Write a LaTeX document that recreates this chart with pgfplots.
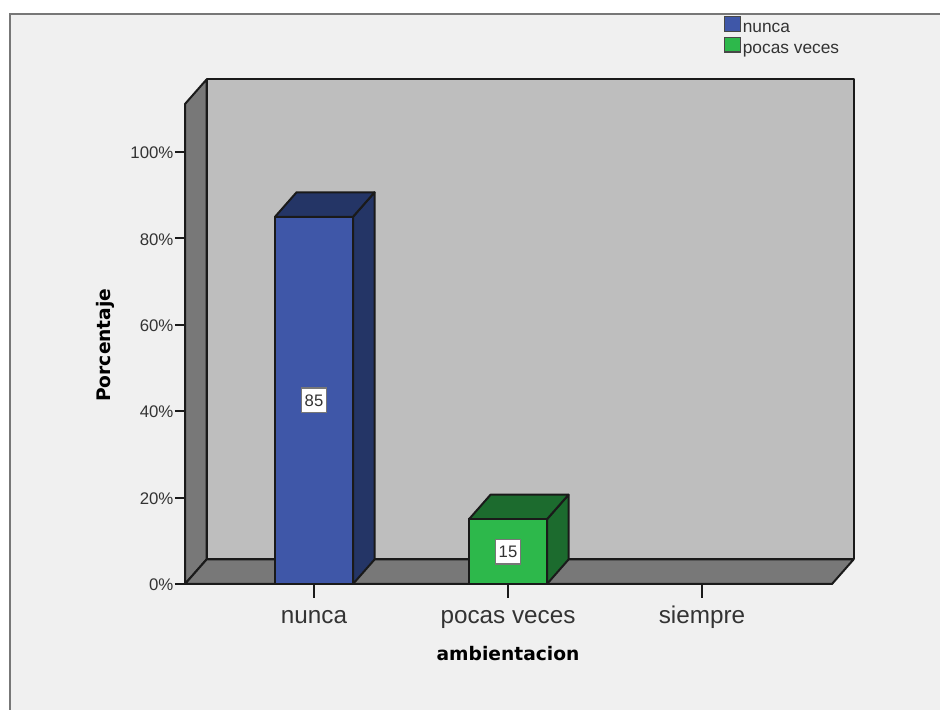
\documentclass[border=0pt]{standalone}
\usepackage{fontspec}
\setmainfont{Liberation Sans}
\newfontfamily\labelfont{DejaVu Sans}
\usepackage{pgfplots}
\pgfplotsset{compat=1.18}

\definecolor{panel}{HTML}{F0F0F0}
\definecolor{frameline}{HTML}{777777}
\definecolor{wallback}{HTML}{BEBEBE}
\definecolor{wallside}{HTML}{787878}
\definecolor{edge}{HTML}{1A1A1A}
\definecolor{txt}{HTML}{333333}
\definecolor{blueface}{HTML}{3F57A8}
\definecolor{blueside}{HTML}{243566}
\definecolor{greenface}{HTML}{2DB84B}
\definecolor{greenside}{HTML}{1C6B2E}

\pgfplotsset{
    face/.style={draw=edge, line width=1.5pt, line join=round, forget plot},
    swatch/.style={
        legend image code/.code={
            \draw[##1, draw=edge!80, line width=0.9pt] (0pt,-2.25pt) rectangle (12pt,8.75pt);
        },
    },
}

\begin{document}
\begin{tikzpicture}[x=0.75pt, y=0.75pt]
\path[use as bounding box] (0,0) rectangle (940,710);
\fill[panel] (9,0) rectangle (940,696);
\draw[frameline, line width=1.5pt] (9.5,0) -- (9.5,696) -- (940,696);

\begin{axis}[
    at={(138.75pt,94.5pt)},
    anchor=south west,
    scale only axis,
    width=485.25pt,
    height=360pt,
    clip=false,
    xmin=-0.665, xmax=2.67,
    ymin=0, ymax=111.11,
    xtick={0,1,2},
    xticklabels={nunca, pocas veces, siempre},
    ytick={0,20,40,60,80,100},
    yticklabel={\pgfmathprintnumber{\tick}\%},
    /pgf/number format/assume math mode=true,
    axis x line*=bottom,
    axis y line*=left,
    axis line style={-, edge, line width=1.5pt},
    tick align=outside,
    major tick length=7.5pt,
    xtick style={edge, line width=1.5pt, /pgfplots/major tick length=10.5pt},
    ytick style={edge, line width=1.5pt},
    yticklabel style={font=\fontsize{12.6}{13}\selectfont, text=txt, inner sep=1pt, yshift=-0.7pt},
    xticklabel style={font=\fontsize{18.2}{20}\selectfont, text=txt,
        text height=13pt, text depth=4pt, yshift=-5.5pt},
    every axis x label/.style={at={(axis cs:1,-16)}, anchor=center},
    every axis y label/.style={at={(axis cs:-1.077,55.3)}, rotate=90, anchor=center},
    xlabel={\labelfont\bfseries\fontsize{14}{16}\selectfont ambientacion},
    ylabel={\labelfont\bfseries\fontsize{14}{16}\selectfont Porcentaje},
    legend cell align=left,
    legend style={
        at={(axis cs:2.11,131.5)}, anchor=north west,
        draw=none, fill=none,
        font=\fontsize{13}{13}\selectfont, text=txt,
        row sep=0pt, inner sep=0pt,
        /tikz/every even column/.append style={column sep=1pt},
        nodes={inner xsep=1.5pt, inner ysep=0pt, text height=9.5pt, text depth=2.8pt},
    },
]
% walls and floor
\addplot[face, fill=wallback] coordinates {(-0.554,5.67)(2.781,5.67)(2.781,116.78)(-0.554,116.78)} -- cycle;
\addplot[face, fill=wallside] coordinates {(-0.665,0)(-0.554,5.67)(-0.554,116.78)(-0.665,111.11)} -- cycle;
\addplot[face, fill=wallside] coordinates {(-0.665,0)(2.67,0)(2.781,5.67)(-0.554,5.67)} -- cycle;

% nunca
\addplot[face, fill=blueside] coordinates {(0.201,0)(0.312,5.67)(0.312,90.67)(0.201,85)} -- cycle;
\addplot[face, fill=blueside] coordinates {(-0.201,85)(-0.09,90.67)(0.312,90.67)(0.201,85)} -- cycle;
\addplot[ybar, bar width=0.402, bar shift=0pt, fill=blueface, draw=edge, line width=1.5pt, swatch] coordinates {(0,85)};
\addlegendentry{nunca}

% pocas veces
\addplot[face, fill=greenside] coordinates {(1.201,0)(1.312,5.67)(1.312,20.67)(1.201,15)} -- cycle;
\addplot[face, fill=greenside] coordinates {(0.799,15)(0.91,20.67)(1.312,20.67)(1.201,15)} -- cycle;
\addplot[ybar, bar width=0.402, bar shift=0pt, fill=greenface, draw=edge, line width=1.5pt, swatch] coordinates {(1,15)};
\addlegendentry{pocas veces}

\node[draw=frameline, fill=white, line width=1pt, font=\fontsize{12.5}{13}\selectfont, text=txt,
      minimum size=18.5pt, inner sep=0pt] at (axis cs:0,42.5) {85};
\node[draw=frameline, fill=white, line width=1pt, font=\fontsize{12.5}{13}\selectfont, text=txt,
      minimum size=18.5pt, inner sep=0pt] at (axis cs:1,7.5) {15};
\end{axis}
\end{tikzpicture}
\end{document}
